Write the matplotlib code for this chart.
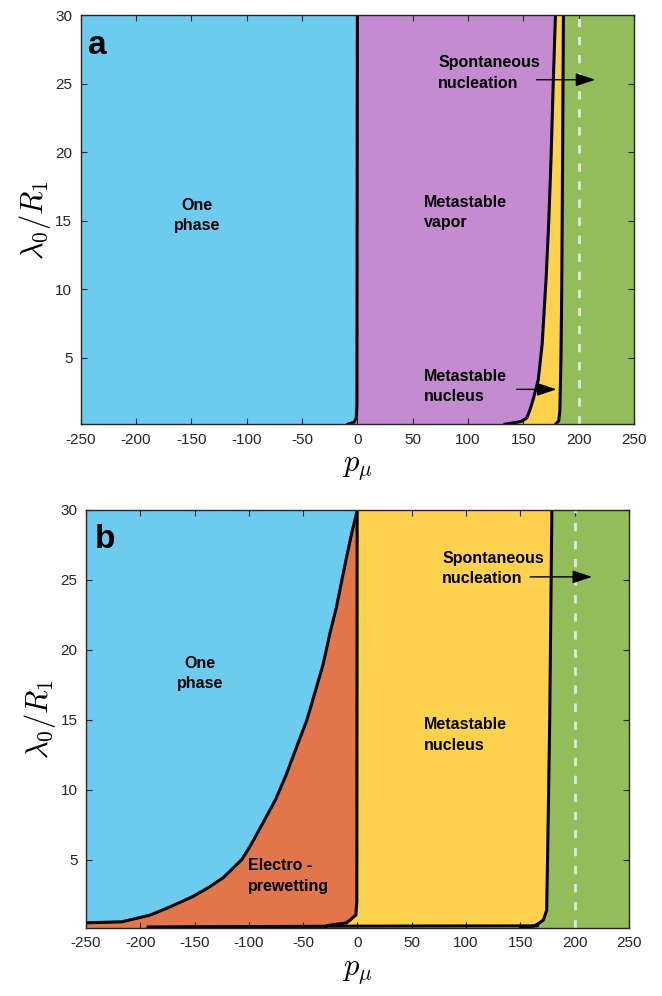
import numpy as np
import matplotlib.pyplot as plt

plt.rcParams['font.family'] = ['Liberation Sans', 'DejaVu Sans']
plt.rcParams['mathtext.fontset'] = 'cm'
plt.rcParams['axes.unicode_minus'] = False

# colours of the phases
c_blue = '#6ECBF0'
c_purple = '#C58BD0'
c_yellow = '#FFD24D'
c_green = '#92BD5A'
c_orange = '#E0764A'

# ---- panel a boundaries (lambda_0/R_1 vs p_mu) ----
lam_a0 = [0.15, 0.3, 0.6, 1.5, 30]
p_a0 = [-9, -3, -1, -0.4, 0.0]          # one phase / metastable vapor

lam_a1 = [0.15, 0.35, 0.6, 1.2, 2.0, 3.4, 6, 10.7, 15, 19.5, 25, 30]
p_a1 = [133, 148, 153, 156, 159, 163.5, 167, 170.5, 173, 175, 177, 179]   # vapor / nucleus

lam_a2 = [0.15, 0.4, 1.2, 5, 10, 20, 30]
p_a2 = [179, 182, 183, 184, 184.7, 185.5, 186.2]   # nucleus / spontaneous

# ---- panel b boundaries ----
lam_b1 = [0.5, 0.57, 1.05, 1.64, 2.4, 3.03, 3.74, 5.03, 5.98, 7.71, 9.26, 11,
          13.07, 15, 17.36, 19, 21.2, 23, 25.46, 27, 28.3, 30]
p_b1 = [-250, -217, -191, -172.5, -151, -137, -123.3, -106.4, -98.8, -86.5, -75.7, -66,
        -56, -46.5, -37.6, -31.5, -25.3, -19.5, -13.1, -9, -5.4, 0]   # one phase / electro-prewetting

lam_b2 = [0.15, 0.3, 0.5, 1.05, 2, 30]
p_b2 = [-30, -28, -9.9, -1.5, -0.6, -0.3]          # prewetting / metastable nucleus

lam_b3 = [0.15, 0.28, 0.45, 0.7, 1.4, 7.8, 15, 30]
p_b3 = [150, 163, 166.6, 171.2, 174.2, 175.6, 177, 179]   # nucleus / spontaneous

lam_b0 = [0.2, 0.26, 0.28]
p_b0 = [-193, 0, 166]                               # bottom line

p_spin = 200   # dashed line

xticks = [-250, -200, -150, -100, -50, 0, 50, 100, 150, 200, 250]
yticks = [5, 10, 15, 20, 25, 30]

fig = plt.figure(figsize=(6.62, 9.96), dpi=100)
ax1 = fig.add_axes([0.1219, 0.574, 0.8358, 0.4106])
ax2 = fig.add_axes([0.1299, 0.0686, 0.8202, 0.4197])

lw = 2.2

def style(ax):
    ax.set_xlim(-250, 250)
    ax.set_ylim(0.15, 30)
    ax.set_xticks(xticks)
    ax.set_yticks(yticks)
    ax.tick_params(direction='in', top=True, right=True, length=4, pad=6,
                   labelsize=11, colors='#262626', width=0.8)
    for s in ax.spines.values():
        s.set_color('#262626')
        s.set_linewidth(1.0)
        s.set_zorder(10)
    ax.set_xlabel(r'$p_\mu$', fontsize=22, labelpad=4)
    ax.set_ylabel(r'$\lambda_0/R_1$', fontsize=22, labelpad=2)
    ax.axvline(p_spin, color='#E6E6E6', lw=2, ls=(0, (3, 3.5)), zorder=3)

# panel a
ax1.set_facecolor(c_green)
ax1.fill_betweenx(lam_a2, -250, p_a2, color=c_yellow, lw=0)
ax1.fill_betweenx(lam_a1, -250, p_a1, color=c_purple, lw=0)
ax1.fill_betweenx(lam_a0, -250, p_a0, color=c_blue, lw=0)
for p, l in [(p_a0, lam_a0), (p_a1, lam_a1), (p_a2, lam_a2)]:
    ax1.plot(p, l, color='k', lw=lw, zorder=4, solid_capstyle='round')
style(ax1)

kw = dict(fontsize=11.5, fontweight='bold', color='k', va='center', linespacing=1.45)
ax1.text(-145, 15.4, 'One\nphase', ha='center', **kw)
ax1.text(60, 15.6, 'Metastable\nvapor', ha='left', **kw)
ax1.text(73, 25.8, 'Spontaneous\nnucleation', ha='left', **kw)
ax1.text(60, 2.9, 'Metastable\nnucleus', ha='left', **kw)
ax1.text(0.014, 0.965, 'a', transform=ax1.transAxes, fontsize=24, fontweight='bold',
         ha='left', va='top')
arr = dict(arrowstyle='-|>,head_length=1.2,head_width=0.4', color='k', lw=1,
           shrinkA=0, shrinkB=0)
ax1.annotate('', xy=(215, 25.3), xytext=(162, 25.3), arrowprops=arr, zorder=6)
ax1.annotate('', xy=(180, 2.7), xytext=(144, 2.7), arrowprops=arr, zorder=6)

# panel b
ax2.set_facecolor(c_green)
ax2.fill_betweenx(lam_b3, -250, p_b3, color=c_yellow, lw=0)
ax2.fill_betweenx(lam_b2, -250, p_b2, color=c_orange, lw=0)
ax2.fill_betweenx(lam_b1, -250, p_b1, color=c_blue, lw=0)
for p, l in [(p_b0, lam_b0), (p_b1, lam_b1), (p_b2, lam_b2), (p_b3, lam_b3)]:
    ax2.plot(p, l, color='k', lw=lw, zorder=4, solid_capstyle='round')
style(ax2)

ax2.text(-145, 18.3, 'One\nphase', ha='center', **kw)
ax2.text(61, 13.9, 'Metastable\nnucleus', ha='left', **kw)
ax2.text(78, 25.8, 'Spontaneous\nnucleation', ha='left', **kw)
ax2.text(-101, 3.85, 'Electro -\nprewetting', ha='left', **kw)
ax2.text(0.016, 0.965, 'b', transform=ax2.transAxes, fontsize=24, fontweight='bold',
         ha='left', va='top')
ax2.annotate('', xy=(216, 25.2), xytext=(159, 25.2), arrowprops=arr, zorder=6)

fig.savefig('out.png', dpi=100)
